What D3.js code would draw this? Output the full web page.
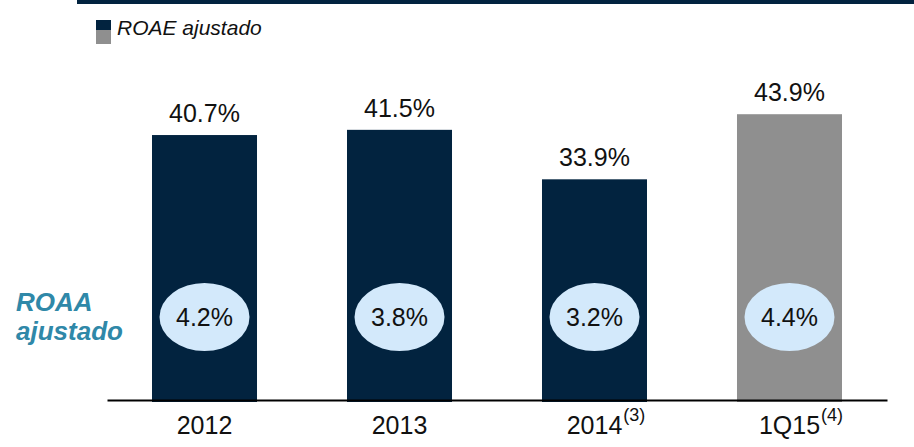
<!DOCTYPE html>
<html>
<head>
<meta charset="utf-8">
<script src="https://cdn.jsdelivr.net/npm/d3@7"></script>
<style>
  body { margin: 0; background: #fff; }
  svg { display: block; font-family: "Liberation Sans", Arial, sans-serif; }
</style>
</head>
<body>
<div class="chart"></div>
<script>
// data
const periods = ["2012", "2013", "2014", "1Q15"];
const notes = ["", "", "(3)", "(4)"];
const roae = [40.7, 41.5, 33.9, 43.9];
const roaa = [4.2, 3.8, 3.2, 4.4];

const navy = "#02233f";
const grey = "#8f8f8f";

const width = 914, height = 447;

const svg = d3.select(".chart")
    .append("svg")
    .attr("width", width)
    .attr("height", height);

// top rule
svg.append("rect")
    .attr("x", 77).attr("y", 0)
    .attr("width", width - 77).attr("height", 4)
    .attr("fill", navy);

// legend
svg.append("rect").attr("x", 96).attr("y", 20).attr("width", 15).attr("height", 10).attr("fill", navy);
svg.append("rect").attr("x", 96).attr("y", 30).attr("width", 15).attr("height", 14).attr("fill", grey);
svg.append("text")
    .attr("x", 117).attr("y", 35)
    .attr("font-size", 21)
    .attr("font-style", "italic")
    .attr("fill", "#111")
    .text("ROAE ajustado");

// scales
const xScale = d3.scaleBand()
    .domain(periods)
    .range([107, 887])
    .paddingInner(0.4615)
    .paddingOuter(0.2308);

const yScale = d3.scaleLinear()
    .domain([0, 50])
    .range([400, 74.5]);

const rows = periods.map((p, i) => ({period: p, note: notes[i], roae: roae[i], roaa: roaa[i], last: i === periods.length - 1}));

// bars
svg.selectAll(".bar")
    .data(rows)
    .enter()
    .append("rect")
    .attr("class", "bar")
    .attr("x", d => xScale(d.period))
    .attr("y", d => yScale(d.roae))
    .attr("width", xScale.bandwidth())
    .attr("height", d => yScale(0) - yScale(d.roae) + 2)
    .attr("fill", d => d.last ? grey : navy);

// value labels
svg.selectAll(".val")
    .data(rows)
    .enter()
    .append("text")
    .attr("class", "val")
    .attr("x", d => xScale(d.period) + xScale.bandwidth() / 2)
    .attr("y", d => yScale(d.roae) - 13)
    .attr("text-anchor", "middle")
    .attr("font-size", 25)
    .attr("fill", "#111")
    .text(d => d.roae.toFixed(1) + "%");

// ROAA ellipses
svg.selectAll(".roaa")
    .data(rows)
    .enter()
    .append("ellipse")
    .attr("class", "roaa")
    .attr("cx", d => xScale(d.period) + xScale.bandwidth() / 2)
    .attr("cy", 317)
    .attr("rx", 45)
    .attr("ry", 34)
    .attr("fill", "#d3e9fb");

svg.selectAll(".roaa-label")
    .data(rows)
    .enter()
    .append("text")
    .attr("class", "roaa-label")
    .attr("x", d => xScale(d.period) + xScale.bandwidth() / 2)
    .attr("y", 326)
    .attr("text-anchor", "middle")
    .attr("font-size", 25)
    .attr("fill", "#111")
    .text(d => d.roaa.toFixed(1) + "%");

// ROAA side title
const side = svg.append("text")
    .attr("font-size", 26)
    .attr("font-weight", "bold")
    .attr("font-style", "italic")
    .attr("fill", "#2f88a8");
side.append("tspan").attr("x", 16).attr("y", 311).text("ROAA");
side.append("tspan").attr("x", 16).attr("y", 340).text("ajustado");

// x axis
const xAxis = d3.axisBottom(xScale).tickSize(0).tickPadding(0);
const xAxisGroup = svg.append("g")
    .attr("class", "axis x-axis")
    .attr("transform", "translate(0,400)")
    .call(xAxis);

xAxisGroup.select(".domain")
    .attr("stroke", "#000")
    .attr("stroke-width", 2);

xAxisGroup.selectAll(".tick text")
    .attr("y", 34)
    .attr("dy", null)
    .attr("font-size", 25)
    .attr("font-family", "'Liberation Sans', Arial, sans-serif")
    .attr("fill", "#111");

// superscript notes
xAxisGroup.selectAll(".tick").each(function(d, i) {
    if (!notes[i]) return;
    const t = d3.select(this).select("text");
    const w = t.node().getComputedTextLength();
    d3.select(this).append("text")
        .attr("x", w / 2 + 1)
        .attr("y", 21)
        .attr("text-anchor", "start")
        .attr("font-size", 18)
        .attr("font-family", "'Liberation Sans', Arial, sans-serif")
        .attr("fill", "#111")
        .text(notes[i]);
});
</script>
</body>
</html>
